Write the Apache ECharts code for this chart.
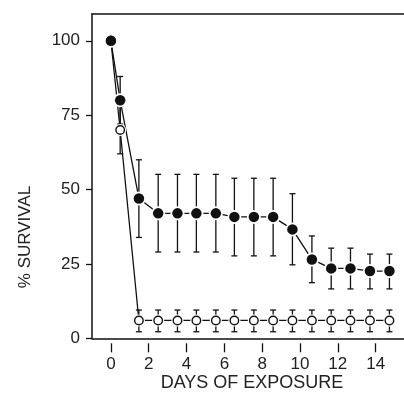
<!DOCTYPE html>
<html><head><meta charset="utf-8">
<script src="https://cdn.jsdelivr.net/npm/echarts@6/dist/echarts.min.js"></script>
<style>html,body{margin:0;padding:0;background:#fff}#c{width:404px;height:403px}</style>
</head><body><div id="c"></div>
<script>
// Days of exposure for each plotted point
const days = [0, 0.49, 1.48, 2.50, 3.52, 4.52, 5.55, 6.53, 7.56, 8.58, 9.60, 10.63, 11.65, 12.67, 13.70, 14.73];
// Filled-circle series (% survival, mean and error bar ends)
const filledMean  = [100, 80, 47, 42, 42, 42, 42, 40.8, 40.8, 40.8, 36.6, 26.5, 23.5, 23.5, 22.6, 22.6];
const filledUpper = [null, 88, 60, 55.1, 55.1, 55.1, 55.1, 53.8, 53.8, 53.8, 48.6, 34.4, 30.3, 30.3, 28.3, 28.3];
const filledLower = [null, 72, 33.9, 29, 29, 29, 29, 27.7, 27.7, 27.7, 24.7, 18.7, 16.6, 16.6, 16.6, 16.6];
// Open-circle series
const openMean  = [100, 70, 6, 6, 6, 6, 6, 6, 6, 6, 6, 6, 6, 6, 6, 6];
const openUpper = [null, 78, 9.5, 9.5, 9.5, 9.5, 9.5, 9.5, 9.5, 9.5, 9.5, 9.5, 9.5, 9.5, 9.5, 9.5];
const openLower = [null, 62, 2.2, 2.2, 2.2, 2.2, 2.2, 2.2, 2.2, 2.2, 2.2, 2.2, 2.2, 2.2, 2.2, 2.2];
// Tick labels
const xTicks = [0, 2, 4, 6, 8, 10, 12, 14];
const yTicks = [0, 25, 50, 75, 100];

const FONT = '"Liberation Sans", Arial, sans-serif';
const INK = '#111';
const TXT = '#222';

function pairs(xs, ys) { return xs.map((x, i) => [x, ys[i]]); }
function errData(xs, lo, hi) {
  return xs.map((x, i) => hi[i] == null ? null : [x, lo[i], hi[i]]).filter(d => d);
}
function errSeries(data) {
  return {
    type: 'custom', z: 2, silent: true, data: data,
    encode: { x: 0, y: [1, 2] },
    renderItem: function (params, api) {
      const x = api.value(0), lo = api.value(1), hi = api.value(2);
      const pLo = api.coord([x, lo]), pHi = api.coord([x, hi]);
      const hw = 3;
      const st = { stroke: INK, lineWidth: 1.3 };
      return { type: 'group', children: [
        { type: 'line', shape: { x1: pLo[0], y1: pLo[1], x2: pHi[0], y2: pHi[1] }, style: st },
        { type: 'line', shape: { x1: pHi[0] - hw, y1: pHi[1], x2: pHi[0] + hw, y2: pHi[1] }, style: st },
        { type: 'line', shape: { x1: pLo[0] - hw, y1: pLo[1], x2: pLo[0] + hw, y2: pLo[1] }, style: st }
      ]};
    }
  };
}
function lineSeries(ys) {
  return { type: 'line', z: 2, silent: true, data: pairs(days, ys), showSymbol: false, symbol: 'none',
    lineStyle: { color: INK, width: 1.3 } };
}
function halo(ys, size) {
  return { type: 'scatter', z: 3, silent: true, data: pairs(days, ys), symbol: 'circle', symbolSize: size,
    itemStyle: { color: '#fff', opacity: 1 } };
}

const chart = echarts.init(document.getElementById('c'), null, { renderer: 'canvas' });
const xBase = { type: 'value', min: -1, max: 15.5, splitLine: { show: false } };
chart.setOption({
  animation: false,
  backgroundColor: '#fff',
  grid: { left: 92, right: 0, top: 14, bottom: 64.7, containLabel: false },
  xAxis: [
    Object.assign({}, xBase, {
      position: 'bottom',
      axisLine: { show: true, onZero: false, lineStyle: { color: INK, width: 1.5 } },
      axisTick: { show: false }, axisLabel: { show: false },
      name: 'DAYS OF EXPOSURE', nameLocation: 'middle', nameGap: 36,
      nameTextStyle: { fontFamily: FONT, fontSize: 18, color: TXT, padding: [0, 0, 0, 8] }
    }),
    Object.assign({}, xBase, {
      position: 'bottom', offset: 5,
      axisLine: { show: false, onZero: false },
      axisTick: { show: true, length: 9, customValues: xTicks, lineStyle: { color: INK, width: 1.3 } },
      axisLabel: { show: true, customValues: xTicks, margin: 13, fontFamily: FONT, fontSize: 17, color: TXT }
    }),
    Object.assign({}, xBase, {
      position: 'top',
      axisLine: { show: true, onZero: false, lineStyle: { color: INK, width: 1.5 } },
      axisTick: { show: false }, axisLabel: { show: false }
    })
  ],
  yAxis: {
    type: 'value', min: 0, max: 109, position: 'left',
    axisLine: { show: true, onZero: false, lineStyle: { color: INK, width: 1.5 } },
    axisTick: { show: true, length: 6, customValues: yTicks, lineStyle: { color: INK, width: 1.3 } },
    axisLabel: { show: true, customValues: yTicks, margin: 12, fontFamily: FONT, fontSize: 17, color: TXT },
    splitLine: { show: false }
  },
  graphic: [{
    type: 'text', x: 25, y: 237, rotation: Math.PI / 2,
    style: { text: '% SURVIVAL', fill: TXT, fontFamily: FONT, fontSize: 17, align: 'center', verticalAlign: 'middle' }
  }],
  series: [
    errSeries(errData(days, filledLower, filledUpper)),
    errSeries(errData(days, openLower, openUpper)),
    lineSeries(filledMean),
    lineSeries(openMean),
    halo(openMean, 12),
    halo(filledMean, 14),
    { type: 'scatter', z: 4, silent: true, data: pairs(days, openMean), symbol: 'circle', symbolSize: 8.5,
      itemStyle: { color: '#fff', borderColor: INK, borderWidth: 1.4, opacity: 1 } },
    { type: 'scatter', z: 5, silent: true, data: pairs(days, filledMean), symbol: 'circle', symbolSize: 10.5,
      itemStyle: { color: INK, opacity: 1 } }
  ]
});
</script></body></html>
